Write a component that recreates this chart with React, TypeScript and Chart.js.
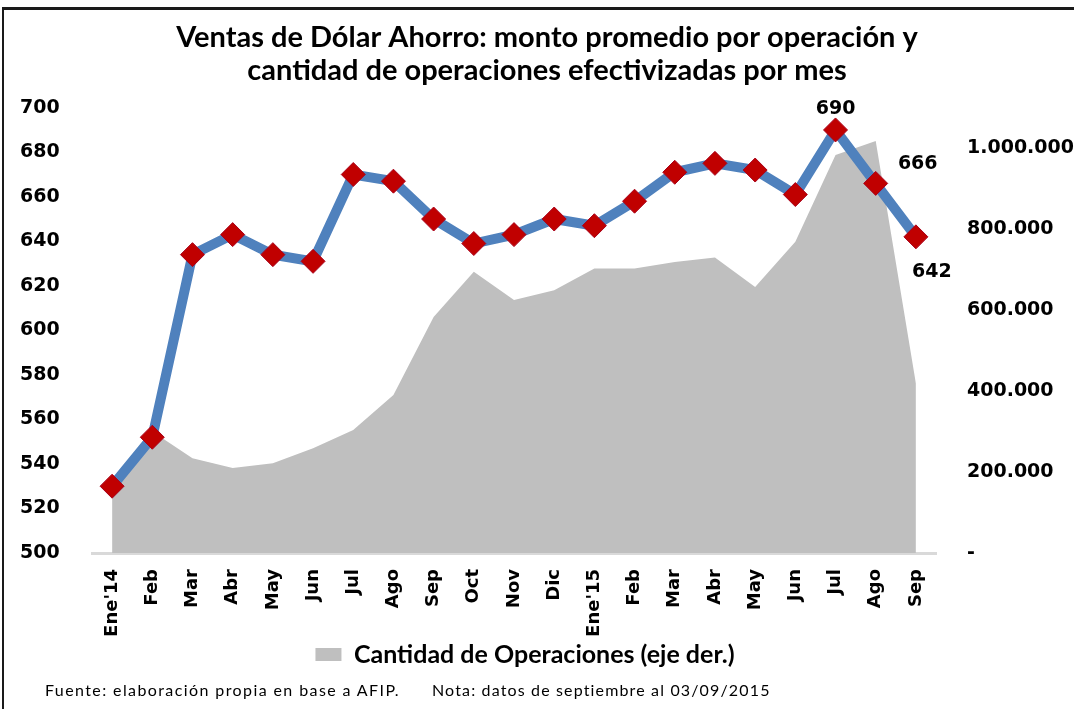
import { useEffect, useRef } from "react";
import { Chart, registerables } from "chart.js";

Chart.register(...registerables);

const categories = [
  "Ene'14", "Feb", "Mar", "Abr", "May", "Jun", "Jul", "Ago", "Sep", "Oct", "Nov", "Dic",
  "Ene'15", "Feb", "Mar", "Abr", "May", "Jun", "Jul", "Ago", "Sep",
];

const montoPromedio = [530, 552, 634, 643, 634, 631, 670, 667, 650, 639, 643, 650, 647, 658, 671, 675, 672, 661, 690, 666, 642];

const cantidadOperaciones = [
  165000, 300000, 234000, 210000, 222000, 259000, 304000, 390000, 583000, 695000, 625000,
  649000, 703000, 703000, 719000, 730000, 657000, 769000, 983000, 1018000, 419000,
];

const titleLines = [
  "Ventas de Dólar Ahorro: monto promedio por operación y",
  "cantidad de operaciones efectivizadas por mes",
];
const legendLabel = "Cantidad de Operaciones (eje der.)";
const lineLabel = "Monto promedio por operación";
const footerSource = "Fuente: elaboración propia en base a AFIP.";
const footerNote = "Nota: datos de septiembre al 03/09/2015";

const leftMin = 500;
const leftMax = 700;
const leftTicks = [500, 520, 540, 560, 580, 600, 620, 640, 660, 680, 700];
const rightMin = 0;
const rightMax = 1100000;
const rightTicks = [0, 200000, 400000, 600000, 800000, 1000000];

// indices of labelled points and where their value text sits relative to the marker
const labelledPoints = [
  { index: 18, dx: 0, dy: -21 },
  { index: 19, dx: 42, dy: -19 },
  { index: 20, dx: 16, dy: 35 },
];

const legendShiftX = 11;

const formatThousands = (v: number) =>
  v === 0 ? "-" : String(Math.round(v)).replace(/\B(?=(\d{3})+(?!\d))/g, ".");

export default function App() {
  const ref = useRef<HTMLCanvasElement>(null);

  useEffect(() => {
    if (!ref.current) return;
    const dataLabels = {
      id: "dataLabels",
      afterDatasetsDraw(chart: any) {
        const meta = chart.getDatasetMeta(0);
        const ctx = chart.ctx;
        ctx.save();
        ctx.font = 'bold 19px "DejaVu Sans"';
        ctx.fillStyle = "#000";
        ctx.textAlign = "center";
        ctx.textBaseline = "middle";
        labelledPoints.forEach(({ index, dx, dy }) => {
          const pt = meta.data[index];
          if (pt) ctx.fillText(String(montoPromedio[index]), pt.x + dx, pt.y + dy);
        });
        ctx.restore();
      },
    };
    const legendShift = {
      id: "legendShift",
      afterLayout(chart: any) {
        if (chart.legend) {
          chart.legend.left += legendShiftX;
          chart.legend.right += legendShiftX;
        }
      },
    };

    const chart = new Chart(ref.current, {
      type: "line",
      data: {
        labels: categories,
        datasets: [
          {
            label: lineLabel,
            data: montoPromedio,
            yAxisID: "y",
            borderColor: "#4F81BD",
            borderWidth: 10,
            backgroundColor: "#C00000",
            pointStyle: "rectRot",
            pointRadius: 12,
            pointBackgroundColor: "#C00000",
            pointBorderColor: "#A8001A",
            pointBorderWidth: 1,
            tension: 0,
            fill: false,
            order: 1,
          },
          {
            label: legendLabel,
            data: cantidadOperaciones,
            yAxisID: "y1",
            borderColor: "#BFBFBF",
            borderWidth: 0,
            backgroundColor: "#BFBFBF",
            pointRadius: 0,
            tension: 0,
            fill: "origin",
            order: 2,
          },
        ],
      },
      options: {
        responsive: false,
        animation: false,
        layout: { padding: { left: 20, right: 0, top: 0, bottom: 32 } },
        plugins: {
          title: {
            display: true,
            text: titleLines,
            color: "#000",
            font: { family: "Lato", weight: "bold", size: 29, lineHeight: 1.15 },
            padding: { top: 21, bottom: 20 },
          },
          legend: {
            display: true,
            position: "bottom",
            fullSize: false,
            labels: {
              color: "#000",
              font: { family: "Lato", weight: "bold", size: 25 },
              boxWidth: 26,
              boxHeight: 13,
              padding: 0,
              filter: (item: any) => item.datasetIndex === 1,
            },
          },
          tooltip: { enabled: false },
        },
        scales: {
          x: {
            offset: true,
            grid: { display: false, drawTicks: false },
            border: { display: true, color: "#D9D9D9", width: 3 },
            ticks: {
              autoSkip: false,
              minRotation: 90,
              maxRotation: 90,
              padding: 16,
              color: "#000",
              font: { family: "DejaVu Sans", weight: "bold", size: 18 },
            },
            afterFit: (s: any) => {
              s.height = 89;
            },
          },
          y: {
            position: "left",
            min: leftMin,
            max: leftMax,
            grid: { display: false, drawTicks: false },
            border: { display: false },
            ticks: {
              crossAlign: "far",
              color: "#000",
              font: { family: "DejaVu Sans", weight: "bold", size: 19 },
            },
            afterBuildTicks: (s: any) => {
              s.ticks = leftTicks.map((value) => ({ value }));
            },
            afterFit: (s: any) => {
              s.width = 72;
            },
          },
          y1: {
            position: "right",
            min: rightMin,
            max: rightMax,
            grid: { display: false, drawTicks: false },
            border: { display: false },
            ticks: {
              padding: 31,
              color: "#000",
              font: { family: "DejaVu Sans", weight: "bold", size: 19 },
              callback: (v: any) => formatThousands(Number(v)),
            },
            afterBuildTicks: (s: any) => {
              s.ticks = rightTicks.map((value) => ({ value }));
            },
            afterFit: (s: any) => {
              s.width = 138;
            },
          },
        },
      },
      plugins: [dataLabels, legendShift],
    } as any);

    return () => chart.destroy();
  }, []);

  return (
    <div
      style={{
        position: "absolute",
        left: 0,
        top: 0,
        width: 1074,
        height: 709,
        background: "#fff",
        overflow: "hidden",
      }}
    >
      <canvas
        ref={ref}
        width={1074}
        height={709}
        style={{ position: "absolute", left: 0, top: 0, display: "block" }}
      />
      <div
        style={{
          position: "absolute",
          left: 2,
          top: 7,
          width: 1080,
          height: 720,
          borderTop: "3px solid #1a1a1a",
          borderLeft: "2px solid #1a1a1a",
          pointerEvents: "none",
        }}
      />
      <div
        style={{
          position: "absolute",
          left: 45,
          top: 680,
          fontFamily: "Lato",
          fontSize: 16,
          letterSpacing: 1.4,
          color: "#000",
          whiteSpace: "pre",
          lineHeight: "20px",
        }}
      >
        {footerSource}
      </div>
      <div
        style={{
          position: "absolute",
          left: 432,
          top: 680,
          fontFamily: "Lato",
          fontSize: 16,
          letterSpacing: 1.15,
          color: "#000",
          whiteSpace: "pre",
          lineHeight: "20px",
        }}
      >
        {footerNote}
      </div>
    </div>
  );
}
